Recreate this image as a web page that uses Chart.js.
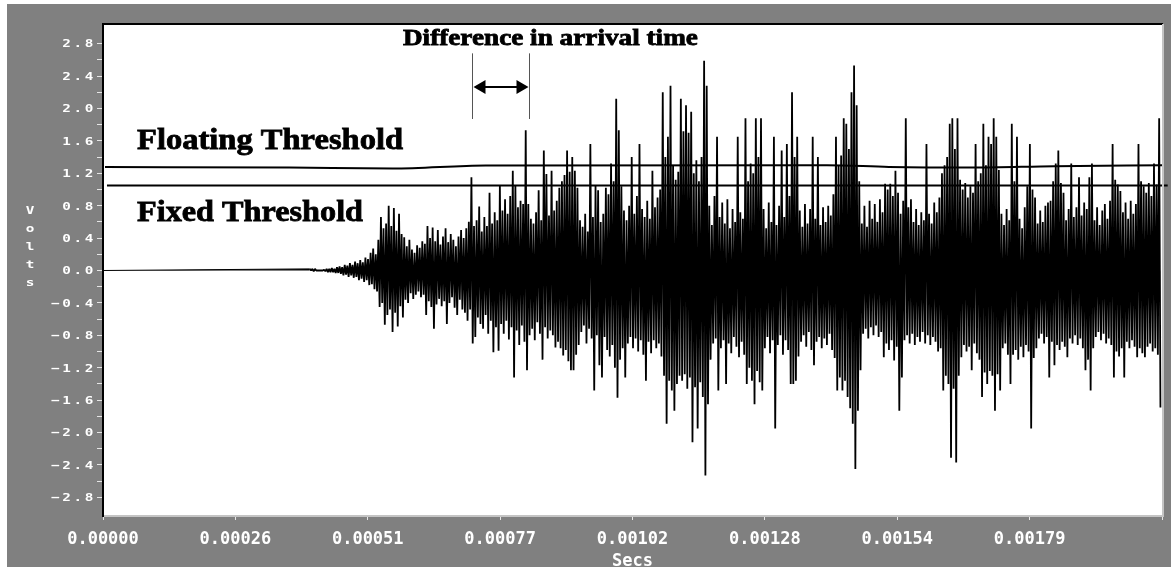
<!DOCTYPE html>
<html lang="en">
<head>
<meta charset="UTF-8">
<title>Arrival time: fixed vs floating threshold</title>
<script src="https://cdn.jsdelivr.net/npm/chart.js"></script>
<style>
  html, body { margin: 0; padding: 0; background: #fff; }
  #wrap { width: 1171px; height: 579px; }
</style>
</head>
<body>
<div id="wrap"><canvas id="scope" width="1171" height="579"></canvas></div>
<script>
// Captured trace: one sample every 2.5 us from 0.4 ms on, volts
const SAMPLE_START = 0.0004;
const SAMPLE_STEP = 0.0000025;
const volts = [
  0.02, 0, 0.02, -0.01, 0.02, 0, 0, 0, 0, 0, 0, 0.01, -0.01, 0.02, -0.02,
  // onset
  0.02,-0.02, 0.03,-0.02, 0.02,-0.03, 0.04,-0.03, 0.05,-0.04, 0.04,-0.06, 0.07,-0.05, 0.06,-0.08, 0.09,-0.06, 0.07,-0.09,
  0.11,-0.08, 0.09,-0.12, 0.13,-0.10, 0.10,-0.14, 0.16,-0.12, 0.14,-0.18, 0.22,-0.17, 0.27,-0.23, 0.20,-0.26, 0.38,-0.45,
  0.66,-0.40, 0.52,-0.67, 0.58,-0.55, 0.80,-0.48, 0.55,-0.76, 0.77,-0.52, 0.49,-0.69, 0.70,-0.44, 0.45,-0.58, 0.41,-0.36,
  0.30,-0.40, 0.38,-0.28, 0.26,-0.35, 0.22,-0.30, 0.31,-0.26, 0.28,-0.33, 0.36,-0.30, 0.33,-0.55, 0.55,-0.38, 0.40,-0.45,
  0.53,-0.72, 0.36,-0.42, 0.50,-0.35, 0.32,-0.44, 0.42,-0.38, 0.52,-0.66, 0.35,-0.40, 0.45,-0.33, 0.38,-0.46, 0.30,-0.55,
  0.42,-0.36, 0.50,-0.48, 0.40,-0.52, 0.52,-0.62, 0.60,-0.48, 1.15,-0.90, 0.55,-0.82, 0.62,-0.58, 0.79,-0.66, 0.48,-0.72,
  0.66,-0.55, 0.55,-0.78, 0.96,-0.62, 0.58,-1.01, 0.72,-0.70, 0.62,-0.99, 1.05,-0.66, 0.74,-0.78, 0.88,-0.62, 0.70,-0.85,
  0.92,-0.70, 1.23,-1.32, 1.05,-0.74, 0.78,-0.92, 0.86,-0.68, 0.82,-0.88, 1.73,-1.23, 0.82,-0.80, 0.64,-0.72, 0.58,-0.86,
  0.72,-0.64, 0.99,-0.78, 0.62,-1.10, 1.48,-0.70, 1.19,-0.84, 0.68,-0.74, 1.23,-0.80, 0.74,-0.95, 0.86,-0.88, 1.02,-0.96,
  1.10,-1.05, 1.18,-0.98, 1.48,-1.12, 1.22,-1.23, 1.40,-1.23, 1.23,-1.04, 1.02,-0.92, 0.62,-0.76, 0.54,-0.68, 0.70,-0.90,
  0.48,-0.72, 1.56,-0.84, 0.66,-1.48, 1.05,-0.80, 0.99,-1.17, 0.60,-1.32, 0.70,-0.82, 1.02,-0.98, 0.94,-1.06, 1.32,-0.92,
  1.10,-1.20, 2.12,-1.57, 1.73,-1.10, 1.04,-0.96, 0.74,-1.32, 0.62,-0.90, 0.80,-0.82, 1.40,-0.96, 0.70,-0.84, 0.92,-1.00,
  1.56,-0.86, 0.76,-1.04, 0.66,-1.36, 0.86,-0.88, 0.64,-1.02, 1.23,-0.86, 0.78,-0.96, 0.90,-0.90, 1.00,-1.06, 2.20,-1.30,
  1.40,-1.89, 1.65,-1.36, 2.28,-1.48, 1.30,-1.73, 1.12,-1.40, 1.22,-1.30, 2.12,-1.36, 1.72,-1.28, 2.04,-1.46, 1.70,-1.32,
  1.96,-2.12, 1.20,-1.44, 1.36,-1.95, 1.10,-1.38, 1.40,-1.56, 2.59,-2.53, 2.28,-1.65, 0.80,-1.10, 0.56,-0.90, 0.92,-0.84,
  1.65,-1.48, 0.66,-0.96, 0.84,-0.86, 0.58,-1.40, 0.88,-0.90, 0.52,-1.02, 0.76,-0.82, 0.60,-0.94, 1.65,-1.07, 0.72,-0.88,
  0.64,-1.04, 1.88,-1.40, 1.10,-1.20, 1.32,-1.36, 1.20,-1.65, 1.88,-1.24, 1.40,-1.38, 1.88,-1.48, 0.76,-0.96, 0.52,-0.82,
  0.84,-1.02, 0.60,-0.86, 1.65,-1.95, 0.56,-0.92, 0.80,-0.80, 1.48,-1.04, 0.66,-0.86, 1.56,-0.98, 0.92,-1.40, 2.20,-1.40,
  1.40,-1.36, 1.65,-1.06, 0.74,-0.88, 0.54,-0.80, 0.82,-0.94, 0.58,-0.76, 0.76,-0.98, 1.65,-1.17, 0.64,-0.88, 1.40,-0.82,
  0.56,-0.96, 0.78,-0.84, 0.60,-0.92, 0.80,-0.78, 0.68,-0.98, 0.94,-1.08, 1.65,-1.48, 1.30,-1.32, 1.42,-1.48, 1.88,-1.36,
  1.81,-1.56, 1.50,-1.70, 2.20,-1.89, 2.53,-2.45, 2.04,-1.73, 1.10,-1.23, 0.58,-0.78, 0.80,-0.72, 0.54,-0.84, 0.86,-0.70,
  0.64,-0.80, 0.82,-0.68, 0.60,-0.82, 0.88,-0.76, 0.72,-1.07, 1.07,-0.90, 1.00,-0.98, 1.07,-0.86, 0.92,-1.11, 1.23,-0.94,
  0.96,-1.73, 0.70,-1.32, 0.86,-0.86, 1.88,-0.80, 0.78,-0.90, 0.88,-0.78, 0.60,-0.92, 0.76,-0.82, 0.56,-0.88, 0.72,-0.76,
  0.62,-0.90, 1.56,-0.80, 0.70,-0.92, 0.58,-0.82, 0.84,-0.88, 0.72,-1.00, 0.90,-0.96, 1.20,-1.48, 1.30,-1.30, 1.40,-1.40,
  1.81,-2.31, 1.88,-1.46, 1.50,-2.37, 1.88,-1.30, 1.12,-1.07, 1.00,-0.92, 1.08,-1.00, 0.90,-0.94, 1.04,-1.23, 0.96,-0.90,
  1.56,-1.02, 1.10,-1.10, 1.20,-1.56, 1.81,-1.26, 1.30,-1.40, 1.65,-1.24, 1.56,-1.30, 1.88,-1.73, 1.65,-1.28, 1.24,-1.48,
  0.70,-0.96, 0.56,-0.90, 0.76,-1.04, 0.62,-1.40, 1.81,-1.04, 1.10,-0.98, 1.65,-1.10, 0.64,-0.94, 0.52,-1.07, 0.78,-0.92,
  1.04,-1.00, 1.56,-1.95, 1.00,-1.08, 0.90,-0.96, 0.58,-0.84, 0.74,-0.78, 0.60,-0.90, 0.80,-0.82, 0.84,-1.32, 0.86,-0.88,
  1.10,-1.17, 1.32,-0.92, 1.48,-0.98, 1.08,-0.88, 0.96,-0.94, 0.62,-1.07, 0.76,-0.84, 1.32,-0.90, 0.66,-0.80, 0.78,-0.92,
  1.15,-0.84, 0.68,-0.96, 0.84,-1.23, 0.76,-1.10, 1.15,-1.48, 1.32,-0.96, 0.62,-0.82, 0.78,-0.76, 0.56,-0.86, 0.74,-0.78,
  0.82,-0.90, 0.64,-0.84, 0.86,-0.92, 1.56,-1.32, 1.12,-1.00, 1.06,-1.06, 0.98,-0.96, 0.72,-1.32, 0.84,-0.88, 0.64,-0.96,
  0.86,-0.86, 0.70,-0.94, 0.82,-1.07, 1.56,-0.96, 1.10,-1.02, 1.04,-1.07, 0.96,-0.94, 1.08,-0.90, 0.92,-1.00, 1.32,-0.96,
  1.06,-1.04, 1.88,-1.69
];

// Threshold levels (volts)
const floatingTimes  = [0.0000039, 0.00036, 0.00056, 0.00074, 0.00140, 0.00152, 0.00168, 0.00184, 0.00205];
const floatingLevels = [1.277, 1.270, 1.258, 1.296, 1.300, 1.278, 1.270, 1.288, 1.300];
const fixedTimes  = [0.0000077, 0.002059];
const fixedLevels = [1.05, 1.05];

// Where each threshold is first crossed (s)
const arrivalFixed = 0.000714;
const arrivalFloating = 0.000824;

const xTickValues = [0, 0.000256, 0.000512, 0.000768, 0.001024, 0.00128, 0.001536, 0.001792, 0.002048];
const xTickLabels = ['0.00000', '0.00026', '0.00051', '0.00077', '0.00102', '0.00128', '0.00154', '0.00179', ''];
const yTickValues = [-2.8, -2.6, -2.4, -2.2, -2.0, -1.8, -1.6, -1.4, -1.2, -1.0, -0.8, -0.6, -0.4, -0.2, 0,
                     0.2, 0.4, 0.6, 0.8, 1.0, 1.2, 1.4, 1.6, 1.8, 2.0, 2.2, 2.4, 2.6, 2.8];
const yTickLabels = ['−2.8', '', '−2.4', '', '−2.0', '', '−1.6', '', '−1.2', '', '−0.8', '', '−0.4', '', '0.0',
                     '', '0.4', '', '0.8', '', '1.2', '', '1.6', '', '2.0', '', '2.4', '', '2.8'];

const signalPoints = [{ x: 0, y: 0 }].concat(
  volts.map((v, i) => ({ x: SAMPLE_START + i * SAMPLE_STEP, y: v }))
);
const floatingPoints = floatingTimes.map((t, i) => ({ x: t, y: floatingLevels[i] }));
const fixedPoints = fixedTimes.map((t, i) => ({ x: t, y: fixedLevels[i] }));

const AXIS_FONT = '"DejaVu Sans Mono", monospace';
const NOTE_FONT = '"Liberation Serif", "Times New Roman", serif';

// stretch a heavy bold label to a given width
function fittedText(ctx, text, x, y, size, width) {
  ctx.font = 'bold ' + size + 'px ' + NOTE_FONT;
  const w = ctx.measureText(text).width;
  ctx.save();
  ctx.translate(x, y);
  ctx.scale(width / w, 1);
  ctx.textAlign = 'left';
  ctx.textBaseline = 'alphabetic';
  ctx.lineWidth = 0.8;
  ctx.strokeStyle = '#000';
  ctx.fillText(text, 0, 0);
  ctx.strokeText(text, 0, 0);
  ctx.restore();
}

// wide, squat axis lettering
function wideText(ctx, text, x, y, align) {
  ctx.save();
  ctx.translate(x, y);
  ctx.scale(1.3, 1);
  ctx.textAlign = align;
  ctx.fillText(text, 0, 0);
  ctx.restore();
}

const scopeFrame = {
  id: 'scopeFrame',
  beforeDraw(chart) {
    const { ctx, chartArea: a, width, height } = chart;
    ctx.save();
    ctx.fillStyle = '#ffffff';
    ctx.fillRect(0, 0, width, height);
    ctx.fillStyle = '#808080';
    ctx.fillRect(7, 4, width - 7, 563);
    ctx.fillStyle = '#ffffff';
    ctx.fillRect(a.left, a.top, a.right - a.left, a.bottom - a.top);
    ctx.restore();
  },
  afterDraw(chart) {
    const { ctx, chartArea: a } = chart;
    const xs = chart.scales.x, ys = chart.scales.y;
    ctx.save();

    // frame: dark top, light right edge
    ctx.fillStyle = '#000';
    ctx.fillRect(a.left - 1, a.top - 2, a.right - a.left + 2, 2);
    ctx.fillStyle = '#c4c4c4';
    ctx.fillRect(a.right, a.top - 1, 2, a.bottom - a.top + 2);

    // y tick labels
    ctx.fillStyle = '#fff';
    ctx.font = 'bold 11px ' + AXIS_FONT;
    ctx.letterSpacing = '2px';
    ctx.textBaseline = 'middle';
    yTickValues.forEach((v, i) => {
      if (yTickLabels[i]) wideText(ctx, yTickLabels[i], a.left - 7, ys.getPixelForValue(v) + 1, 'right');
    });

    // stacked axis name
    ctx.letterSpacing = '0px';
    ctx.textBaseline = 'alphabetic';
    'Volts'.split('').forEach((ch, i) => wideText(ctx, ch, 30, 214 + i * 18, 'center'));

    ctx.font = 'bold 17px ' + AXIS_FONT;
    ctx.textAlign = 'center';
    ctx.fillText('Secs', (a.left + a.right) / 2, 566);

    // annotations
    ctx.fillStyle = '#000';
    fittedText(ctx, 'Difference in arrival time', xs.getPixelForValue(0.00058), ys.getPixelForValue(2.784), 24, 295);
    fittedText(ctx, 'Floating Threshold', xs.getPixelForValue(0.0000658), ys.getPixelForValue(1.496), 30, 266);
    fittedText(ctx, 'Fixed Threshold', xs.getPixelForValue(0.0000658), ys.getPixelForValue(0.615), 30, 226);

    const x1 = Math.round(xs.getPixelForValue(arrivalFixed)) + 0.5;
    const x2 = Math.round(xs.getPixelForValue(arrivalFloating)) + 0.5;
    const yTop = ys.getPixelForValue(2.68), yBot = ys.getPixelForValue(1.87);
    const yArr = Math.round(ys.getPixelForValue(2.27));
    ctx.strokeStyle = '#555';
    ctx.lineWidth = 1;
    ctx.beginPath();
    ctx.moveTo(x1, yTop); ctx.lineTo(x1, yBot);
    ctx.moveTo(x2, yTop); ctx.lineTo(x2, yBot);
    ctx.stroke();

    ctx.strokeStyle = '#000';
    ctx.lineWidth = 2;
    ctx.beginPath();
    ctx.moveTo(x1 + 8, yArr); ctx.lineTo(x2 - 8, yArr);
    ctx.stroke();
    ctx.fillStyle = '#000';
    ctx.beginPath();
    ctx.moveTo(x1 + 1, yArr); ctx.lineTo(x1 + 13, yArr - 7); ctx.lineTo(x1 + 13, yArr + 7); ctx.closePath();
    ctx.moveTo(x2 - 1, yArr); ctx.lineTo(x2 - 13, yArr - 7); ctx.lineTo(x2 - 13, yArr + 7); ctx.closePath();
    ctx.fill();

    ctx.restore();
  }
};

new Chart(document.getElementById('scope'), {
  type: 'scatter',
  data: {
    datasets: [
      {
        label: 'Signal',
        data: signalPoints,
        showLine: true,
        borderColor: '#000',
        backgroundColor: '#000',
        fill: 'origin',
        borderWidth: 1.8,
        borderJoinStyle: 'bevel',
        // the quiet lead-in before the first sample is a plain hairline
        segment: { borderWidth: c => (c.p0DataIndex === 0 ? 1 : undefined) },
        pointRadius: 0,
        order: 3
      },
      {
        label: 'Floating threshold',
        data: floatingPoints,
        showLine: true,
        borderColor: '#000',
        borderWidth: 2,
        cubicInterpolationMode: 'monotone',
        pointRadius: 0,
        clip: false,
        order: 1
      },
      {
        label: 'Fixed threshold',
        data: fixedPoints,
        showLine: true,
        borderColor: '#000',
        borderWidth: 2,
        pointRadius: 0,
        clip: false,
        order: 2
      }
    ]
  },
  options: {
    responsive: false,
    devicePixelRatio: 1,
    animation: false,
    events: [],
    layout: { padding: { top: 25, right: 9, left: 0, bottom: 0 } },
    plugins: { legend: { display: false }, tooltip: { enabled: false } },
    scales: {
      x: {
        type: 'linear',
        min: 0,
        max: 0.002048,
        afterBuildTicks: s => { s.ticks = xTickValues.map(v => ({ value: v })); },
        afterFit: s => { s.height = 63; },
        ticks: {
          autoSkip: false,
          maxRotation: 0,
          color: '#fff',
          padding: 9,
          font: { family: AXIS_FONT, size: 17, weight: 'bold' },
          callback: (v, i) => xTickLabels[i]
        },
        grid: { drawOnChartArea: false, tickLength: 4, tickColor: '#e6e6e6' },
        border: { color: '#c4c4c4', width: 2 }
      },
      y: {
        type: 'linear',
        min: -3.03,
        max: 3.03,
        afterBuildTicks: s => { s.ticks = yTickValues.map(v => ({ value: v })); },
        afterFit: s => { s.width = 103; },
        ticks: { callback: () => '' },
        grid: { drawOnChartArea: false, tickLength: 6, tickColor: '#e6e6e6' },
        border: { color: '#000', width: 2 }
      }
    }
  },
  plugins: [scopeFrame]
});
</script>
</body>
</html>
